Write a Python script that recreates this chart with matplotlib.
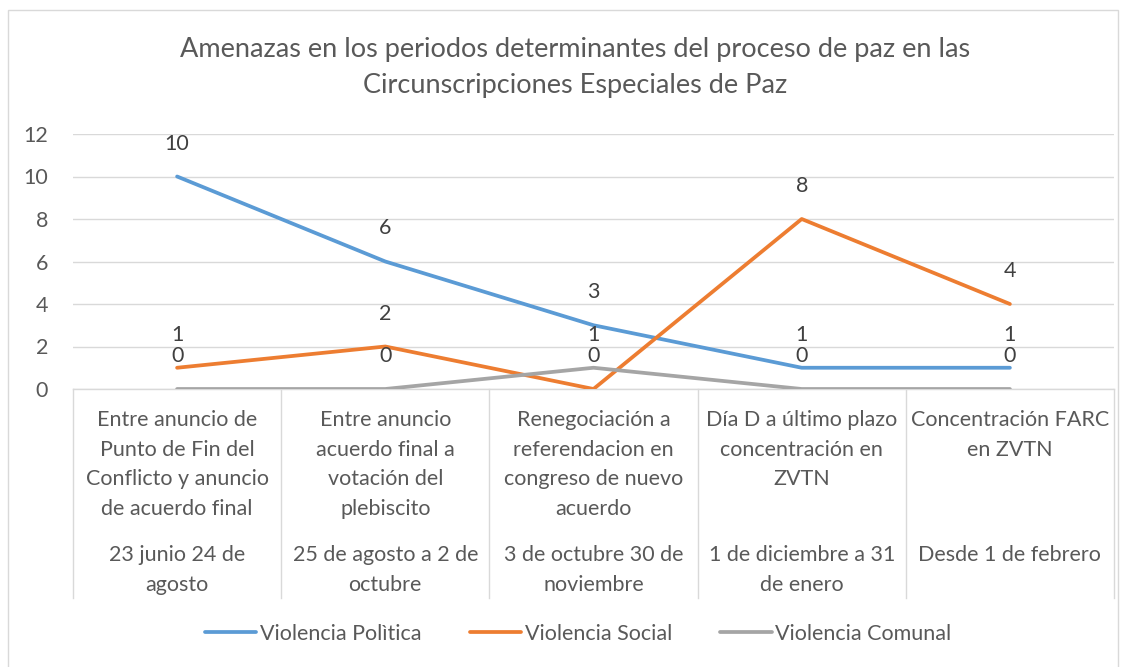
import numpy as np
import matplotlib
matplotlib.use("Agg")
import matplotlib.pyplot as plt
from matplotlib.patches import Rectangle
from matplotlib.lines import Line2D

# ----------------------------
# Data
# ----------------------------

periodos = [
    "Entre anuncio de\nPunto de Fin del\nConflicto y anuncio\nde acuerdo final",
    "Entre anuncio\nacuerdo final a\nvotación del\nplebiscito",
    "Renegociación a\nreferendacion en\ncongreso de nuevo\nacuerdo",
    "Día D a último plazo\nconcentración en\nZVTN",
    "Concentración FARC\nen ZVTN",
]
fechas = [
    "23 junio 24 de\nagosto",
    "25 de agosto a 2 de\noctubre",
    "3 de octubre 30 de\nnoviembre",
    "1 de diciembre a 31\nde enero",
    "Desde 1 de febrero",
]
violencia_politica = [10, 6, 3, 1, 1]
violencia_social = [1, 2, 0, 8, 4]
violencia_comunal = [0, 0, 1, 0, 0]

series = [
    ("Violencia Polìtica", violencia_politica, "#5B9BD5"),
    ("Violencia Social", violencia_social, "#ED7D31"),
    ("Violencia Comunal", violencia_comunal, "#A5A5A5"),
]

txt = "#595959"
grid = "#D9D9D9"
fs = 15.5
plt.rcParams['font.family'] = ['Lato', 'DejaVu Sans']

# ----------------------------
# Figure
# ----------------------------

W, H = 1128, 667
fig = plt.figure(figsize=(W / 100, H / 100), dpi=100)

# chart frame
fig.patches.append(Rectangle((8 / W, -0.01), (1118 - 8) / W, 1 - 10 / H + 0.01,
                             transform=fig.transFigure, fill=False,
                             edgecolor=grid, lw=1.0))

x0, x1, y0, y1 = 73, 1114, 389, 134
ax = fig.add_axes([x0 / W, 1 - y0 / H, (x1 - x0) / W, (y0 - y1) / H])

x = np.arange(len(periodos))
for name, vals, col in series:
    ax.plot(x, vals, color=col, lw=2.7, solid_capstyle='round', solid_joinstyle='round', zorder=3)
    for xi, v in zip(x, vals):
        ax.annotate(str(v), (xi, v), xytext=(0, 33), textcoords='offset pixels',
                    ha='center', va='center', fontsize=fs, color='#404040', zorder=4)

ax.set_xlim(-0.5, len(periodos) - 0.5)
ax.set_ylim(0, 12)
ax.set_yticks(np.arange(0, 13, 2))
ax.set_xticks([])
ax.tick_params(axis='y', length=0, labelsize=fs, labelcolor=txt, pad=18)
for s in ax.spines.values():
    s.set_visible(False)
ax.yaxis.grid(True, color=grid, lw=1.0)
ax.set_axisbelow(True)

# multi-level category axis
trans = ax.get_xaxis_transform()
ah = y0 - y1
for b in np.arange(-0.5, len(periodos), 1.0):
    ax.plot([b, b], [0, -(598 - y0) / ah], transform=trans, color=grid, lw=1.0, clip_on=False)
ax.plot([-0.5, len(periodos) - 0.5], [0, 0], transform=trans, color=grid, lw=1.0, clip_on=False)

for xi, p, f in zip(x, periodos, fechas):
    ax.text(xi, -(410 - y0) / ah, p, transform=trans, ha='center', va='top',
            fontsize=fs, color=txt, linespacing=1.6)
    ax.text(xi, -(545 - y0) / ah, f, transform=trans, ha='center', va='top',
            fontsize=fs, color=txt, linespacing=1.6)

# title
fig.text(575 / W, 1 - 50 / H, "Amenazas en los periodos determinantes del proceso de paz en las",
         ha='center', va='center', fontsize=19.5, color=txt)
fig.text(575 / W, 1 - 85 / H, "Circunscripciones Especiales de Paz",
         ha='center', va='center', fontsize=19.5, color=txt)

# legend
handles = [Line2D([], [], color=c, lw=2.7, solid_capstyle='round') for _, _, c in series]
fig.legend(handles, [n for n, _, _ in series], loc='center', bbox_to_anchor=(578 / W, 1 - 634 / H),
           ncol=3, frameon=False, fontsize=fs, labelcolor=txt, handlelength=2.4,
           handletextpad=0.15, columnspacing=2.25)

fig.savefig("out.png", dpi=100)
